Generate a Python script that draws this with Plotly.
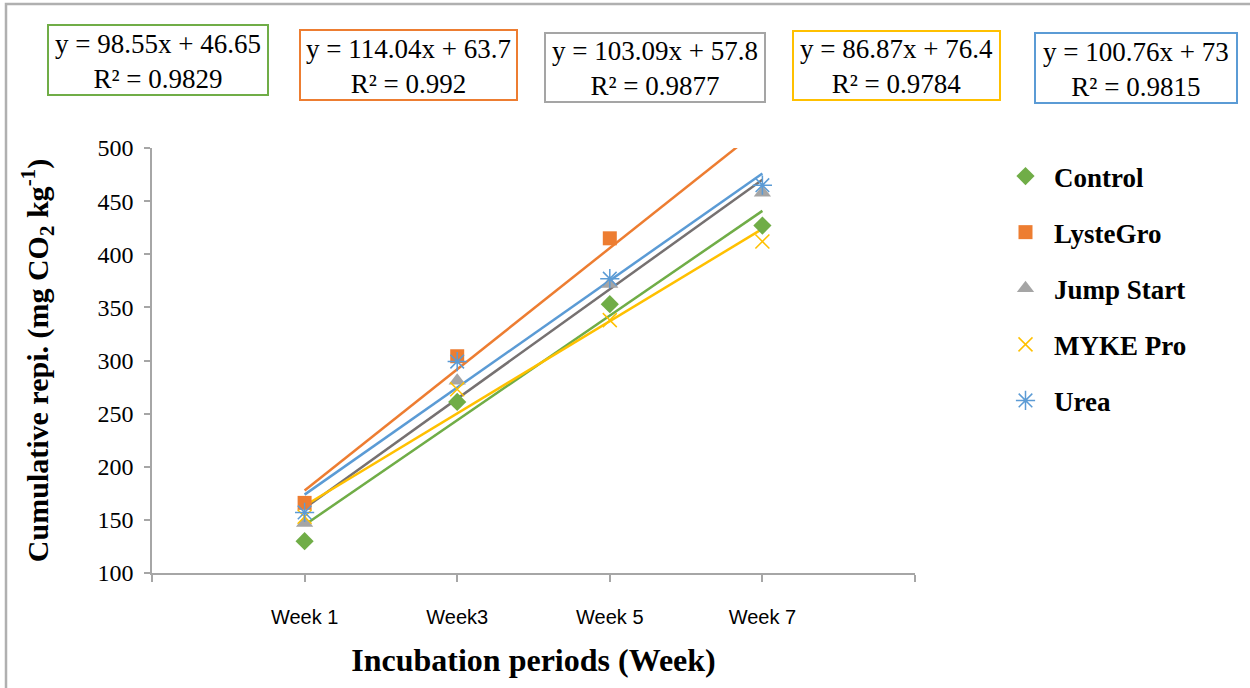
import plotly.graph_objects as go

weeks = ["Week 1", "Week3", "Week 5", "Week 7"]
x_pos = [1, 2, 3, 4]
series_names = ["Control", "LysteGro", "Jump Start", "MYKE Pro", "Urea"]
control = [130, 261, 353, 427]
lystegro = [166, 304, 415, 508]
jump_start = [147, 281, 372, 458]
myke_pro = [153, 273, 338, 412]
urea = [157, 299, 377, 465]
slopes = [98.55, 114.04, 103.09, 86.87, 100.76]
intercepts = [46.65, 63.7, 57.8, 76.4, 73]
r2 = ["0.9829", "0.992", "0.9877", "0.9784", "0.9815"]
eq_text = ["y = 98.55x + 46.65", "y = 114.04x + 63.7", "y = 103.09x + 57.8",
           "y = 86.87x + 76.4", "y = 100.76x + 73"]
y_ticks = [100, 150, 200, 250, 300, 350, 400, 450, 500]

values = [control, lystegro, jump_start, myke_pro, urea]
marker_colors = ["#70AD47", "#ED7D31", "#A5A5A5", "#FFC000", "#5B9BD5"]
line_colors = ["#70AD47", "#ED7D31", "#767171", "#FFC000", "#5B9BD5"]
box_colors = ["#70AD47", "#ED7D31", "#A5A5A5", "#FFC000", "#5B9BD5"]
symbols = ["diamond", "square", "triangle-up", "x-thin-open", "asterisk-open"]
sizes = [14, 14, 15, 14, 16]

W, H = 1250, 688
L, R, T, B = 152, 915, 148, 573
pw, ph = R - L, B - T


def px(x):
    return (x - L) / pw


def py(y):
    return (B - y) / ph


fig = go.Figure()

# trendlines
for i in range(5):
    xs = [x_pos[0], x_pos[-1]]
    ys = [slopes[i] * x + intercepts[i] for x in xs]
    fig.add_trace(go.Scatter(x=xs, y=ys, mode="lines",
                             line=dict(color=line_colors[i], width=2.5),
                             showlegend=False, hoverinfo="skip"))

# markers
for i in range(5):
    mk = dict(symbol=symbols[i], size=sizes[i], color=marker_colors[i])
    if "open" in symbols[i]:
        mk["line"] = dict(color=marker_colors[i], width=1.5)
    else:
        mk["line"] = dict(width=0)
    fig.add_trace(go.Scatter(x=x_pos, y=values[i], mode="markers", name=series_names[i],
                             marker=mk, cliponaxis=False, legendgroup=series_names[i]))

# equation boxes
boxes = [(48, 25, 268, 95), (300, 30, 517, 100), (545, 33, 765, 102),
         (793, 31, 1000, 100), (1035, 33, 1237, 103)]
shapes = []
annotations = []
for i, (x0, y0, x1, y1) in enumerate(boxes):
    shapes.append(dict(type="rect", xref="paper", yref="paper",
                       x0=px(x0), x1=px(x1), y0=py(y1), y1=py(y0),
                       line=dict(color=box_colors[i], width=2), fillcolor="white", layer="above"))
    annotations.append(dict(xref="paper", yref="paper", x=px((x0 + x1) / 2), y=py((y0 + y1) / 2 + 1),
                            text=eq_text[i] + "<br>R² = " + r2[i], showarrow=False,
                            font=dict(family="Liberation Serif", size=27, color="black"),
                            xanchor="center", yanchor="middle", align="center"))

# outer border
shapes.append(dict(type="rect", xref="paper", yref="paper",
                   x0=px(6), x1=px(1260), y0=py(700), y1=py(4),
                   line=dict(color="#B0B0B0", width=2.5), layer="below"))

fig.update_layout(
    width=W, height=H,
    margin=dict(l=L, r=W - R, t=T, b=H - B, autoexpand=False),
    paper_bgcolor="white", plot_bgcolor="white",
    shapes=shapes, annotations=annotations,
    legend=dict(x=px(997), y=py(152), xanchor="left", yanchor="top",
                font=dict(family="Liberation Serif", size=27, color="black", weight="bold"),
                tracegroupgap=18, itemwidth=47, bgcolor="rgba(0,0,0,0)"),
    xaxis=dict(range=[0, 5], tickmode="array", tickvals=[0, 1, 2, 3, 4, 5],
               ticktext=["", weeks[0], weeks[1], weeks[2], weeks[3], ""],
               showline=True, linecolor="#A6A6A6", linewidth=1.5,
               ticks="outside", ticklen=7, tickcolor="#A6A6A6", tickwidth=1.5,
               showgrid=False, zeroline=False, ticklabelstandoff=18,
               tickfont=dict(family="Liberation Sans", size=20, color="black"),
               title=dict(text="Incubation periods (Week)", standoff=22,
                          font=dict(family="Liberation Serif", size=32, color="black", weight="bold"))),
)
fig.update_yaxes(range=[100, 500], tickmode="array", tickvals=y_ticks,
                 ticktext=[str(v) for v in y_ticks],
                 showline=True, linecolor="#A6A6A6", linewidth=1.5,
                 ticks="outside", ticklen=6, tickcolor="#A6A6A6", tickwidth=1.5,
                 showgrid=False, zeroline=False, ticklabelstandoff=6,
                 tickfont_family="Liberation Serif", tickfont_size=24, tickfont_color="black",
                 title=dict(text="Cumulative repi. (mg CO<sub>2</sub> kg<sup>-1</sup>)", standoff=40,
                            font=dict(family="Liberation Serif", size=30, color="black", weight="bold")))

fig.write_html("out.html")
